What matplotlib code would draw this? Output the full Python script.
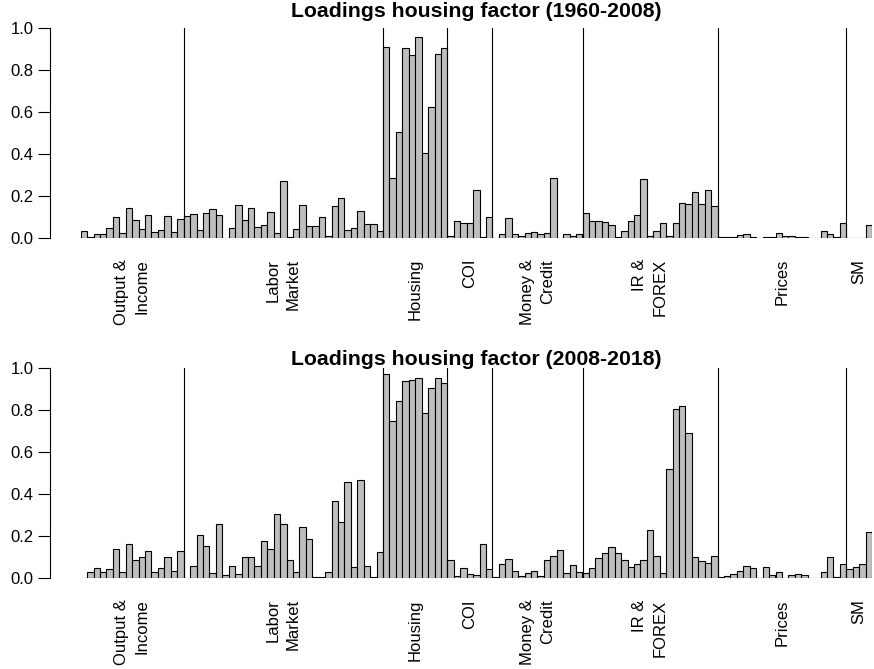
import numpy as np
import matplotlib
matplotlib.use("Agg")
import matplotlib.pyplot as plt

plt.rcParams["font.family"] = ["Liberation Sans", "DejaVu Sans"]

# Variable groups (FRED-MD style) and number of series in each
group_labels = ["Output &\nIncome", "Labor\nMarket", "Housing", "COI",
                "Money &\nCredit", "IR &\nFOREX", "Prices", "SM"]
group_sizes = [16, 31, 10, 7, 14, 21, 20, 4]

# Loadings on the housing factor, 1960-2008
loadings_1960_2008 = [
    # Output & Income
    0.033, 0.006, 0.017, 0.017, 0.049, 0.100, 0.022, 0.141,
    0.087, 0.043, 0.108, 0.027, 0.038, 0.103, 0.027, 0.092,
    # Labor Market
    0.103, 0.113, 0.038, 0.119, 0.137, 0.108, 0.002, 0.049,
    0.157, 0.087, 0.141, 0.054, 0.060, 0.125, 0.022, 0.271,
    0.006, 0.044, 0.157, 0.056, 0.056, 0.098, 0.011, 0.151,
    0.189, 0.038, 0.049, 0.129, 0.065, 0.065, 0.032,
    # Housing
    0.908, 0.287, 0.503, 0.903, 0.870, 0.957, 0.406, 0.622, 0.876, 0.903,
    # COI
    0.011, 0.081, 0.070, 0.070, 0.229, 0.003, 0.100,
    # Money & Credit
    0.002, 0.017, 0.094, 0.017, 0.011, 0.022, 0.027, 0.017,
    0.022, 0.287, 0.002, 0.017, 0.011, 0.017,
    # IR & FOREX
    0.119, 0.081, 0.081, 0.076, 0.060, 0.006, 0.033, 0.081,
    0.108, 0.283, 0.011, 0.033, 0.070, 0.011, 0.070, 0.168,
    0.162, 0.217, 0.162, 0.229, 0.151,
    # Prices
    0.003, 0.003, 0.006, 0.014, 0.017, 0.006, 0.002, 0.005,
    0.005, 0.022, 0.011, 0.011, 0.006, 0.003, 0.001, 0.001,
    0.033, 0.017, 0.006, 0.070,
    # SM
    0.002, 0.002, 0.002, 0.060,
]

# Loadings on the housing factor, 2008-2018
loadings_2008_2018 = [
    # Output & Income
    0.003, 0.029, 0.048, 0.032, 0.043, 0.140, 0.032, 0.162,
    0.086, 0.102, 0.129, 0.032, 0.048, 0.102, 0.037, 0.129,
    # Labor Market
    0.001, 0.059, 0.205, 0.156, 0.027, 0.259, 0.016, 0.059,
    0.021, 0.102, 0.102, 0.059, 0.178, 0.140, 0.308, 0.259,
    0.086, 0.032, 0.243, 0.189, 0.008, 0.008, 0.032, 0.367,
    0.270, 0.457, 0.052, 0.470, 0.059, 0.005, 0.124,
    # Housing
    0.971, 0.751, 0.843, 0.940, 0.944, 0.956, 0.789, 0.908, 0.956, 0.929,
    # COI
    0.086, 0.011, 0.048, 0.021, 0.016, 0.162, 0.043,
    # Money & Credit
    0.005, 0.070, 0.090, 0.037, 0.010, 0.027, 0.037, 0.010,
    0.086, 0.106, 0.135, 0.027, 0.065, 0.032,
    # IR & FOREX
    0.024, 0.048, 0.097, 0.119, 0.151, 0.119, 0.086, 0.052,
    0.070, 0.086, 0.232, 0.106, 0.027, 0.519, 0.805, 0.821,
    0.690, 0.102, 0.081, 0.075, 0.108,
    # Prices
    0.005, 0.011, 0.021, 0.037, 0.059, 0.048, 0.003, 0.052,
    0.016, 0.032, 0.001, 0.016, 0.021, 0.014, 0.003, 0.003,
    0.032, 0.102, 0.005, 0.070,
    # SM
    0.043, 0.052, 0.070, 0.221,
]

titles = ["Loadings housing factor (1960-2008)",
          "Loadings housing factor (2008-2018)"]

W, H = 874, 669


def draw_panel(fig, values, title, base_px, top_px, title_px):
    ax = fig.add_axes([80.7 / W, 1 - base_px / H, (872 - 80.7) / W, (base_px - top_px) / H])
    n = len(values)
    x = np.arange(n)
    ax.bar(x, values, width=1.0, align="edge", color="#bebebe",
           edgecolor="black", linewidth=0.8)
    ax.set_xlim(0, n)
    ax.set_ylim(0, 1)

    bounds = np.cumsum(group_sizes)
    for b in bounds[:-1]:
        ax.plot([b, b], [0, 1], color="black", linewidth=0.8)

    starts = np.concatenate([[0], bounds[:-1]])
    centers = (starts + bounds) / 2
    for c, lab in zip(centers, group_labels):
        ax.text(c, -0.1, lab, rotation=90, ha="center", va="top",
                multialignment="right", fontsize=12, linespacing=1.45,
                clip_on=False)

    for s in ["top", "right", "bottom"]:
        ax.spines[s].set_visible(False)
    ax.spines["left"].set_position(("outward", 22))
    ax.spines["left"].set_bounds(0, 1)
    ax.set_xticks([])
    ax.set_yticks([0, 0.2, 0.4, 0.6, 0.8, 1.0])
    ax.set_yticklabels(["0.0", "0.2", "0.4", "0.6", "0.8", "1.0"])
    ax.tick_params(axis="y", length=8.5, width=0.8, pad=3.5, labelsize=12)

    fig.text(ax.get_position().x0 + ax.get_position().width / 2, 1 - title_px / H,
             title, ha="center", va="baseline", fontsize=15.3, fontweight="bold")
    return ax


def main() -> None:
    fig = plt.figure(figsize=(W / 100, H / 100), dpi=100)
    draw_panel(fig, loadings_1960_2008, titles[0], 238.0, 28.0, 17.3)
    draw_panel(fig, loadings_2008_2018, titles[1], 578.3, 368.3, 365.0)
    fig.savefig("out.png", dpi=100)


if __name__ == "__main__":
    main()
